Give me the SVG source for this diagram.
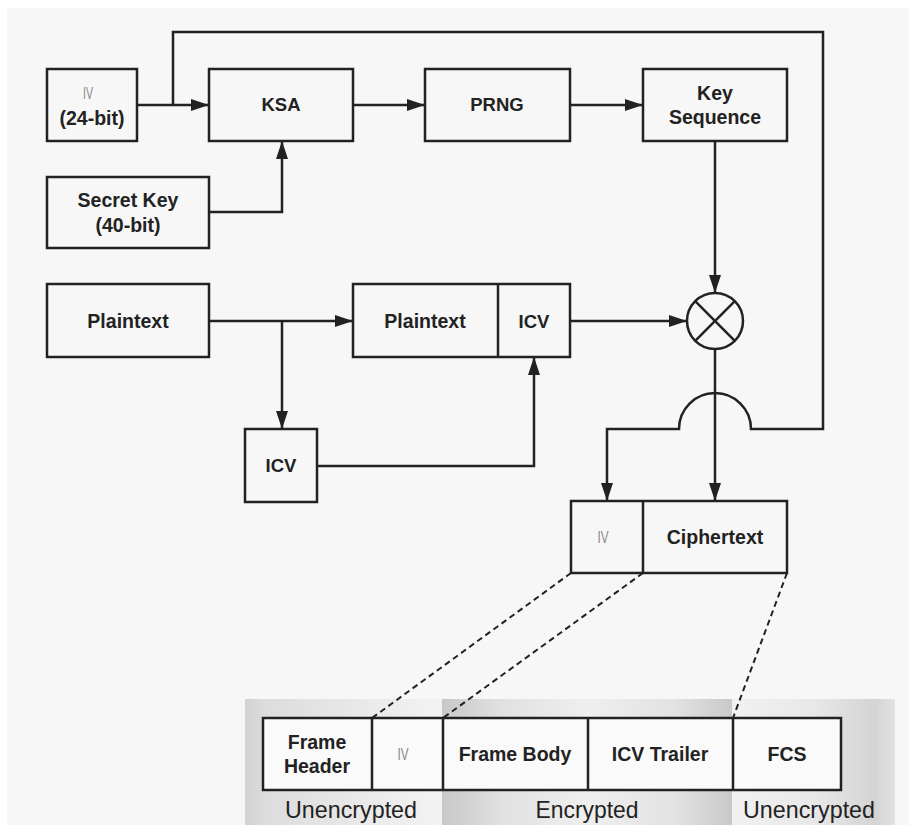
<svg xmlns="http://www.w3.org/2000/svg" width="909" height="825" viewBox="0 0 909 825">
<defs>
<style>
.box{fill:#f7f7f7;stroke:#222;stroke-width:2.5}
.fbox{fill:#fafafa;stroke:#222;stroke-width:2.5}
.ln{fill:none;stroke:#222;stroke-width:2.5}
.arr{fill:none;stroke:#222;stroke-width:2.5;marker-end:url(#ah)}
.dash{fill:none;stroke:#222;stroke-width:2;stroke-dasharray:6 4}
.t{font-family:"Liberation Sans",Arial,sans-serif;font-weight:bold;font-size:19.5px;fill:#222;text-anchor:middle}
.s{font-size:18.5px}
.iv{font-family:"Liberation Sans",Arial,sans-serif;font-size:17px;fill:#888;text-anchor:middle}
.lab{font-family:"Liberation Sans",Arial,sans-serif;font-size:24px;fill:#222;text-anchor:middle}
</style>
<marker id="ah" viewBox="0 0 18 12" refX="18" refY="6" markerWidth="18" markerHeight="12" markerUnits="userSpaceOnUse" orient="auto">
<path d="M0,0 L18,6 L0,12 Z" fill="#222"/>
</marker>
<linearGradient id="gL" x1="0" y1="0" x2="1" y2="0">
<stop offset="0" stop-color="#d2d2d2"/><stop offset="0.1" stop-color="#dcdcdc"/><stop offset="0.55" stop-color="#e8e8e8"/><stop offset="1" stop-color="#f3f3f3"/>
</linearGradient>
<linearGradient id="gM" x1="0" y1="0" x2="1" y2="0">
<stop offset="0" stop-color="#c8c8c8"/><stop offset="0.2" stop-color="#e0e0e0"/><stop offset="0.5" stop-color="#efefef"/><stop offset="0.8" stop-color="#e2e2e2"/><stop offset="1" stop-color="#c9c9c9"/>
</linearGradient>
<linearGradient id="gR" x1="0" y1="0" x2="1" y2="0">
<stop offset="0" stop-color="#f1f1f1"/><stop offset="0.5" stop-color="#e8e8e8"/><stop offset="0.88" stop-color="#d4d4d4"/><stop offset="1" stop-color="#e2e2e2"/>
</linearGradient>
</defs>
<rect x="0" y="0" width="909" height="825" fill="#ffffff"/>
<rect x="7" y="8" width="902" height="817" fill="#f7f7f7"/>
<g id="band">
<rect x="245" y="699" width="197" height="126" fill="url(#gL)"/>
<rect x="442" y="699" width="290" height="126" fill="url(#gM)"/>
<rect x="732" y="699" width="163" height="126" fill="url(#gR)"/>
</g>
<g id="connectors">
<path class="arr" d="M137,105 H209"/>
<path class="arr" d="M353,105 H425"/>
<path class="arr" d="M570,105 H643"/>
<path class="arr" d="M209,212 H282 V141"/>
<path class="arr" d="M715,141 V293"/>
<path class="arr" d="M209,321 H353"/>
<path class="arr" d="M282,321 V429"/>
<path class="arr" d="M317,466 H534 V357"/>
<path class="arr" d="M570,321 H687"/>
<path class="arr" d="M715,349 V501"/>
<path class="arr" d="M173,105 V32 H823 V429 H751 A36,36 0 0 0 679,429 H607 V501"/>
<path class="dash" d="M571,573 L372,718"/>
<path class="dash" d="M643,573 L443,718"/>
<path class="dash" d="M787,573 L733,718"/>
</g>
<g id="iv">
<rect class="box" x="47" y="69" width="90" height="72"/>
<text class="iv" x="88" y="99" textLength="10" lengthAdjust="spacingAndGlyphs">IV</text>
<text class="t" x="92" y="125">(24-bit)</text>
</g>
<g id="ksa">
<rect class="box" x="209" y="69" width="144" height="72"/>
<text class="t s" x="281" y="111">KSA</text>
</g>
<g id="prng">
<rect class="box" x="425" y="69" width="145" height="72"/>
<text class="t s" x="497" y="111">PRNG</text>
</g>
<g id="keyseq">
<rect class="box" x="643" y="69" width="144" height="72"/>
<text class="t" x="715" y="100">Key</text>
<text class="t" x="715" y="124">Sequence</text>
</g>
<g id="secretkey">
<rect class="box" x="47" y="177" width="162" height="71"/>
<text class="t" x="128" y="207">Secret Key</text>
<text class="t" x="128" y="232">(40-bit)</text>
</g>
<g id="plaintext">
<rect class="box" x="47" y="284" width="162" height="73"/>
<text class="t" x="128" y="328">Plaintext</text>
</g>
<g id="plainicv">
<rect class="box" x="353" y="284" width="217" height="73"/>
<line class="ln" x1="498" y1="284" x2="498" y2="357"/>
<text class="t" x="425" y="328">Plaintext</text>
<text class="t s" x="534" y="328">ICV</text>
</g>
<g id="icv">
<rect class="box" x="245" y="429" width="72" height="73"/>
<text class="t s" x="281" y="472">ICV</text>
</g>
<g id="xor">
<circle class="box" cx="715" cy="321" r="28"/>
<line class="ln" x1="695.2" y1="301.2" x2="734.8" y2="340.8"/>
<line class="ln" x1="734.8" y1="301.2" x2="695.2" y2="340.8"/>
</g>
<g id="ivcipher">
<rect class="box" x="571" y="501" width="216" height="72"/>
<line class="ln" x1="643" y1="501" x2="643" y2="573"/>
<text class="iv" x="603" y="543" textLength="11" lengthAdjust="spacingAndGlyphs">IV</text>
<text class="t" x="715" y="544">Ciphertext</text>
</g>
<g id="frame">
<rect class="fbox" x="263" y="718" width="578" height="72"/>
<line class="ln" x1="372" y1="718" x2="372" y2="790"/>
<line class="ln" x1="443" y1="718" x2="443" y2="790"/>
<line class="ln" x1="588" y1="718" x2="588" y2="790"/>
<line class="ln" x1="733" y1="718" x2="733" y2="790"/>
<text class="t" x="317" y="749">Frame</text>
<text class="t" x="317" y="773">Header</text>
<text class="iv" x="403" y="760" textLength="11" lengthAdjust="spacingAndGlyphs">IV</text>
<text class="t" x="515" y="761">Frame Body</text>
<text class="t" x="660" y="761">ICV Trailer</text>
<text class="t" x="787" y="761">FCS</text>
</g>
<g id="labels">
<text class="lab" x="351" y="818" textLength="132" lengthAdjust="spacingAndGlyphs">Unencrypted</text>
<text class="lab" x="587" y="818" textLength="103" lengthAdjust="spacingAndGlyphs">Encrypted</text>
<text class="lab" x="809" y="818" textLength="132" lengthAdjust="spacingAndGlyphs">Unencrypted</text>
</g>
</svg>
